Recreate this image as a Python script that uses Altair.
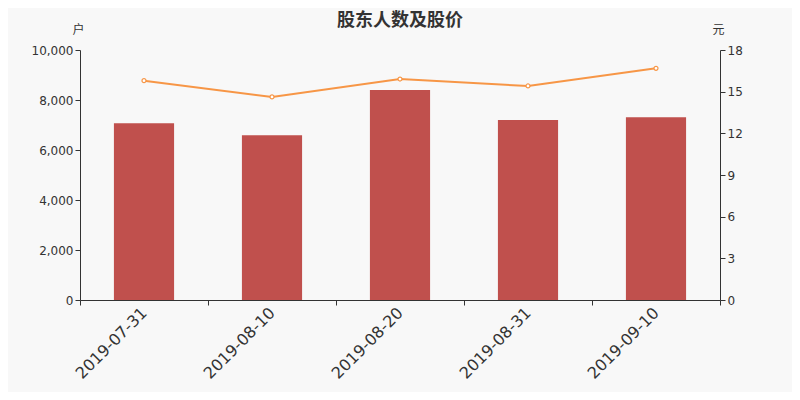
import altair as alt
import pandas as pd

dates = ["2019-07-31", "2019-08-10", "2019-08-20", "2019-08-31", "2019-09-10"]
holders = [7068, 6587, 8400, 7200, 7307]
prices = [15.79, 14.62, 15.91, 15.41, 16.68]

df = pd.DataFrame({"date": dates, "holders": holders, "price": prices})

font = "DejaVu Sans"
cjk = "Noto Sans CJK SC"

x = alt.X("date:N", title=None, sort=dates,
          scale=alt.Scale(paddingInner=0, paddingOuter=0),
          axis=alt.Axis(labelAngle=-45, labelAlign="right", labelBaseline="middle",
                        labelFontSize=16, labelColor="#333", labelFont=font,
                        tickBand="extent", tickSize=5, tickColor="#333",
                        domainColor="#333", labelPadding=5))

bars = alt.Chart(df).mark_bar(color="#c0504d", width=alt.RelativeBandSize(0.47)).encode(
    x=x,
    y=alt.Y("holders:Q", scale=alt.Scale(domain=[0, 10000]),
            axis=alt.Axis(title="户", titleAngle=0, titleX=-2, titleY=-21,
                          titleBaseline="middle",
                          titleFont=cjk, titleFontSize=12, titleFontWeight="normal",
                          titleColor="#333", titleAlign="center",
                          values=[0, 2000, 4000, 6000, 8000, 10000], format=",d",
                          grid=False, tickSize=5, tickColor="#333", domainColor="#333",
                          labelColor="#333", labelFont=font, labelFontSize=12)),
)

line = alt.Chart(df).mark_line(color="#f79646", strokeWidth=2, point=alt.OverlayMarkDef(
    filled=True, fill="white", stroke="#f79646", size=16, strokeWidth=1.2)).encode(
    x=x,
    y=alt.Y("price:Q", scale=alt.Scale(domain=[0, 18]),
            axis=alt.Axis(orient="right", title="元", titleAngle=0, titleX=-2, titleY=-21,
                          titleBaseline="middle",
                          titleFont=cjk, titleFontSize=12, titleFontWeight="normal",
                          titleColor="#333", titleAlign="center",
                          values=[0, 3, 6, 9, 12, 15, 18],
                          grid=False, tickSize=5, tickColor="#333", domainColor="#333",
                          labelColor="#333", labelFont=font, labelFontSize=12)),
)

chart = alt.layer(bars, line).resolve_scale(y="independent").properties(
    width=640, height=250,
    title=alt.TitleParams("股东人数及股价", font=cjk, fontSize=18, fontWeight="bold",
                          color="#333", anchor="middle", offset=-7),
    background="#f8f8f8",
    autosize=alt.AutoSizeParams(type="none"),
    padding={"left": 72, "top": 42, "right": 72, "bottom": 92},
).configure_view(stroke=None)

chart.save("out.html", embed_options={"renderer": "svg", "actions": False})
